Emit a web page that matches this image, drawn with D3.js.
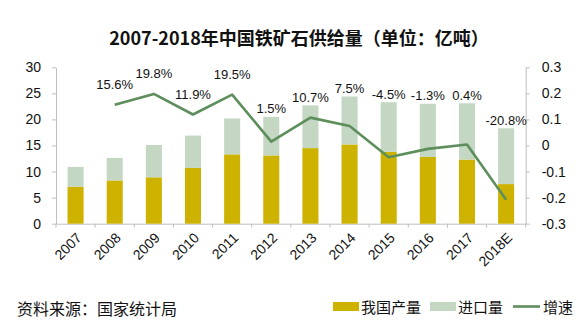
<!DOCTYPE html>
<html>
<head>
<meta charset="utf-8">
<script src="https://cdn.jsdelivr.net/npm/d3@7"></script>
<style>
  html, body { margin: 0; padding: 0; background: #fff; }
  svg { display: block; }
  text { font-family: "Liberation Sans", Arial, "Noto Sans CJK SC", sans-serif; fill: #111; }
  .cjk { font-family: "Noto Sans CJK SC", "Liberation Sans", sans-serif; }
</style>
</head>
<body>
<svg id="chart" width="580" height="329"></svg>
<script>
// China iron ore supply, 2007-2018 (100 million tonnes)
const years = ["2007","2008","2009","2010","2011","2012","2013","2014","2015","2016","2017","2018E"];
const domestic = [7.1, 8.3, 8.9, 10.7, 13.3, 13.1, 14.5, 15.2, 13.8, 12.8, 12.3, 7.6];
const imports  = [3.8, 4.3, 6.2, 6.2, 6.9, 7.4, 8.2, 9.2, 9.5, 10.2, 10.8, 10.7];
const growth   = [null, 0.156, 0.198, 0.119, 0.195, 0.015, 0.107, 0.075, -0.045, -0.013, 0.004, -0.208];
const leftTicks  = [0, 5, 10, 15, 20, 25, 30];
const rightTicks = [-0.3, -0.2, -0.1, 0, 0.1, 0.2, 0.3];

const colors = { domestic: "#CDB300", imports: "#C3D7C3", growth: "#5E8E5C", axis: "#BFBFBF" };

const svg = d3.select("#chart");
const plot = { left: 56, right: 525.7, top: 67.3, bottom: 223.7 };

const x = d3.scaleBand().domain(years).range([plot.left, plot.right]).padding(0);
const yL = d3.scaleLinear().domain([0, 30]).range([plot.bottom, plot.top]);
const yR = d3.scaleLinear().domain([-0.3, 0.3]).range([plot.bottom, plot.top]);
const barW = x.bandwidth() * 0.41;
const cx = d => x(d) + x.bandwidth() / 2;

const num = v => Math.abs(v) < 1e-9 ? "0" : (v < 0 ? "-" : "") + Math.abs(v).toFixed(1);

// Title
svg.append("text").attr("class", "cjk")
  .attr("x", 299).attr("y", 45).attr("text-anchor", "middle")
  .attr("font-size", 18).attr("font-weight", "bold")
  .text("2007-2018年中国铁矿石供给量（单位：亿吨）");

// Left axis
const gL = svg.append("g").attr("transform", `translate(${plot.left},0)`)
  .call(d3.axisLeft(yL).tickValues(leftTicks).tickSize(4).tickPadding(11).tickSizeOuter(0));
// Right axis
const gR = svg.append("g").attr("transform", `translate(${plot.right},0)`)
  .call(d3.axisRight(yR).tickValues(rightTicks).tickFormat(num).tickSize(4).tickPadding(12).tickSizeOuter(0));
// Bottom axis with ticks on category boundaries
const gB = svg.append("g").attr("transform", `translate(0,${plot.bottom})`)
  .call(d3.axisBottom(x).tickSize(0).tickFormat(""));
gB.selectAll(".bound").data(years.concat(["end"])).join("line").attr("class", "bound")
  .attr("x1", (d, i) => plot.left + i * x.step()).attr("x2", (d, i) => plot.left + i * x.step())
  .attr("y1", 0).attr("y2", 4).attr("stroke", colors.axis);

[gL, gR, gB].forEach(g => {
  g.select(".domain").attr("stroke", colors.axis).attr("stroke-width", 1);
  g.selectAll(".tick line").attr("stroke", colors.axis);
  g.selectAll(".tick text").attr("font-size", 14).attr("fill", "#111")
    .attr("font-family", "\"Liberation Sans\", Arial, sans-serif");
});

// Rotated year labels
svg.append("g").selectAll("text").data(years).join("text")
  .attr("transform", d => `translate(${cx(d) + 7},${plot.bottom + 15}) rotate(-45)`)
  .attr("text-anchor", "end").attr("font-size", 14)
  .text(d => d);

// Stacked bars
const bars = svg.append("g");
bars.selectAll(".dom").data(years).join("rect").attr("class", "dom")
  .attr("x", d => cx(d) - barW / 2).attr("width", barW)
  .attr("y", (d, i) => yL(domestic[i])).attr("height", (d, i) => yL(0) - yL(domestic[i]))
  .attr("fill", colors.domestic);
bars.selectAll(".imp").data(years).join("rect").attr("class", "imp")
  .attr("x", d => cx(d) - barW / 2).attr("width", barW)
  .attr("y", (d, i) => yL(domestic[i] + imports[i]))
  .attr("height", (d, i) => yL(domestic[i]) - yL(domestic[i] + imports[i]))
  .attr("fill", colors.imports);

// Growth line
const pts = years.map((d, i) => ({ year: d, v: growth[i], total: domestic[i] + imports[i] }))
  .filter(p => p.v !== null);
svg.append("path").datum(pts)
  .attr("fill", "none").attr("stroke", colors.growth).attr("stroke-width", 2.6)
  .attr("stroke-linejoin", "round")
  .attr("d", d3.line().x(p => cx(p.year)).y(p => yR(p.v)));

// Growth labels, above whichever is higher: the bar or the point
svg.append("g").selectAll("text").data(pts).join("text")
  .attr("x", p => cx(p.year))
  .attr("y", p => Math.min(yL(p.total) - 8, yR(p.v) - 20) + 4.5)
  .attr("text-anchor", "middle").attr("font-size", 13)
  .text(p => (p.v < 0 ? "-" : "") + Math.abs(p.v * 100).toFixed(1) + "%");

// Source note
svg.append("text").attr("class", "cjk")
  .attr("x", 17).attr("y", 315).attr("font-size", 16).attr("fill", "#222")
  .text("资料来源：国家统计局");

// Legend
const lg = svg.append("g").attr("class", "cjk");
lg.append("rect").attr("x", 333).attr("y", 302).attr("width", 26).attr("height", 9).attr("fill", colors.domestic);
lg.append("text").attr("class", "cjk").attr("x", 361).attr("y", 312.5).attr("font-size", 15).text("我国产量");
lg.append("rect").attr("x", 430).attr("y", 302).attr("width", 26).attr("height", 9).attr("fill", colors.imports);
lg.append("text").attr("class", "cjk").attr("x", 458).attr("y", 312.5).attr("font-size", 15).text("进口量");
lg.append("line").attr("x1", 513).attr("x2", 540).attr("y1", 306.5).attr("y2", 306.5)
  .attr("stroke", colors.growth).attr("stroke-width", 2.6);
lg.append("text").attr("class", "cjk").attr("x", 543).attr("y", 312.5).attr("font-size", 15).text("增速");
</script>
</body>
</html>
